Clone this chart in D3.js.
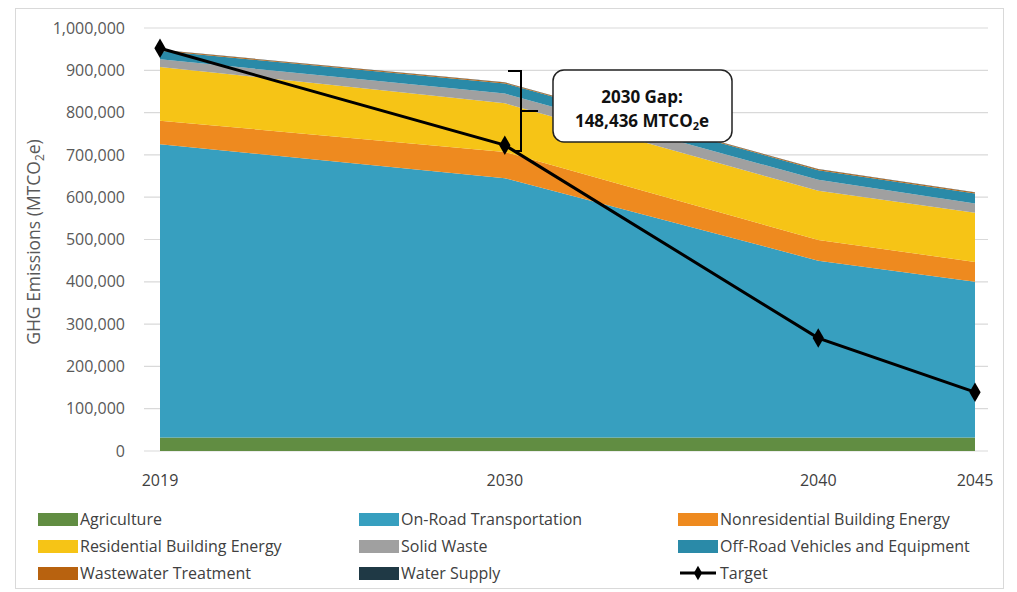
<!DOCTYPE html>
<html>
<head>
<meta charset="utf-8">
<script src="https://cdn.jsdelivr.net/npm/d3@7"></script>
<style>
  body { margin: 0; background: #fff; }
  text { font-family: "Open Sans", sans-serif; }
</style>
</head>
<body>
<svg id="chart" width="1017" height="592"></svg>
<script>
// years on the x axis
const years = [2019, 2030, 2040, 2045];

// emissions by sector, MTCO2e (bottom of stack first)
const sectors = [
  "Agriculture", "On-Road Transportation", "Nonresidential Building Energy",
  "Residential Building Energy", "Solid Waste", "Off-Road Vehicles and Equipment",
  "Wastewater Treatment", "Water Supply"
];
const agriculture   = [32000, 32000, 32000, 32000];
const onRoad        = [693000, 613000, 418000, 368000];
const nonresidential = [56000, 62000, 49000, 47000];
const residential   = [127000, 115000, 116000, 116000];
const solidWaste    = [18000, 23000, 26000, 22000];
const offRoad       = [20000, 24000, 23000, 24000];
const wastewater    = [2000, 2000, 2000, 2000];
const waterSupply   = [500, 500, 500, 500];

// reduction target
const target = [952000, 723000, 267000, 139000];

const yTicks = [0, 100000, 200000, 300000, 400000, 500000, 600000, 700000, 800000, 900000, 1000000];
const gapLabel = ["2030 Gap:", "148,436 MTCO"];

const colors = ["#618d42", "#379fbf", "#ee8a1f", "#f6c416", "#a0a0a0", "#2a8aa8", "#b8620f", "#1f3945"];

const series = [agriculture, onRoad, nonresidential, residential, solidWaste, offRoad, wastewater, waterSupply];
const table = years.map((yr, i) => {
  const row = { year: yr };
  sectors.forEach((s, j) => row[s] = series[j][i]);
  return row;
});

const svg = d3.select("#chart");

// outer frame
svg.append("rect")
  .attr("x", 15.5).attr("y", 8.5).attr("width", 988).attr("height", 580)
  .attr("fill", "none").attr("stroke", "#d9d9d9");

const x = d3.scaleLinear().domain([2019, 2045]).range([160, 975]);
const y = d3.scaleLinear().domain([0, 1000000]).range([451, 28]);

// gridlines
svg.append("g").selectAll("line")
  .data(yTicks)
  .join("line")
    .attr("x1", 144).attr("x2", 988)
    .attr("y1", d => y(d)).attr("y2", d => y(d))
    .attr("stroke", "#d9d9d9").attr("stroke-width", 1.2);

// y tick labels
svg.append("g").selectAll("text")
  .data(yTicks)
  .join("text")
    .attr("x", 125).attr("y", d => y(d))
    .attr("dy", "0.35em")
    .attr("text-anchor", "end")
    .attr("font-size", 16)
    .attr("fill", "#595959")
    .text(d3.format(","));

// stacked areas
const stack = d3.stack().keys(sectors);
const layers = stack(table);
const area = d3.area()
  .x(d => x(d.data.year))
  .y0(d => y(d[0]))
  .y1(d => y(d[1]));

svg.append("g").selectAll("path")
  .data(layers)
  .join("path")
    .attr("d", area)
    .attr("fill", (d, i) => colors[i]);

// x tick labels
svg.append("g").selectAll("text")
  .data(years)
  .join("text")
    .attr("x", d => x(d)).attr("y", 480)
    .attr("dy", "0.35em")
    .attr("text-anchor", "middle")
    .attr("font-size", 16)
    .attr("fill", "#404040")
    .text(d => d);

// y axis title
const yt = svg.append("text")
  .attr("transform", "translate(40,242) rotate(-90)")
  .attr("text-anchor", "middle")
  .attr("font-size", 17.5)
  .attr("fill", "#595959");
yt.append("tspan").text("GHG Emissions (MTCO");
yt.append("tspan").attr("font-size", 12).attr("dy", 4).text("2");
yt.append("tspan").attr("dy", -4).text("e)");

// target line
const line = d3.line().x((d, i) => x(years[i])).y(d => y(d));
svg.append("path")
  .datum(target)
  .attr("d", line)
  .attr("fill", "none")
  .attr("stroke", "#000")
  .attr("stroke-width", 3);

const diamond = d3.symbol().type(d3.symbolDiamond).size(110);
svg.append("g").selectAll("path")
  .data(target)
  .join("path")
    .attr("transform", (d, i) => `translate(${x(years[i])},${y(d)})`)
    .attr("d", diamond)
    .attr("fill", "#000");

// gap bracket
const bx = 521, bTop = 71, bBot = 151, bMid = 111;
svg.append("path")
  .attr("d", `M508,${bTop} H${bx} V${bBot} H513 M${bx},${bMid} H538`)
  .attr("fill", "none")
  .attr("stroke", "#000")
  .attr("stroke-width", 2);

// gap callout box
svg.append("rect")
  .attr("x", 553).attr("y", 70).attr("width", 179).attr("height", 72)
  .attr("rx", 11)
  .attr("fill", "#fff")
  .attr("stroke", "#222")
  .attr("stroke-width", 1.5);
svg.append("text")
  .attr("x", 642).attr("y", 97).attr("dy", "0.35em")
  .attr("text-anchor", "middle").attr("font-size", 17).attr("font-weight", "bold")
  .attr("fill", "#111")
  .text(gapLabel[0]);
const g2 = svg.append("text")
  .attr("x", 642).attr("y", 121).attr("dy", "0.35em")
  .attr("text-anchor", "middle").attr("font-size", 17).attr("font-weight", "bold")
  .attr("fill", "#111");
g2.append("tspan").text(gapLabel[1]);
g2.append("tspan").attr("font-size", 11).attr("dy", 3).text("2");
g2.append("tspan").attr("dy", -3).text("e");

// legend
const legendItems = sectors.concat(["Target"]);
const colX = [38, 359, 678];
const rowY = [519, 546, 573];
const legend = svg.append("g").selectAll("g")
  .data(legendItems)
  .join("g")
    .attr("transform", (d, i) => `translate(${colX[i % 3]},${rowY[Math.floor(i / 3)]})`);

legend.filter(d => d !== "Target").append("rect")
  .attr("x", 0).attr("y", -6).attr("width", 40).attr("height", 13)
  .attr("fill", d => colors[sectors.indexOf(d)]);

const tl = legend.filter(d => d === "Target");
tl.append("line")
  .attr("x1", 2).attr("x2", 38).attr("y1", 0).attr("y2", 0)
  .attr("stroke", "#000").attr("stroke-width", 3);
tl.append("path")
  .attr("transform", "translate(20,0)")
  .attr("d", d3.symbol().type(d3.symbolDiamond).size(60))
  .attr("fill", "#000");

legend.append("text")
  .attr("x", 42).attr("y", 0).attr("dy", "0.35em")
  .attr("font-size", 16)
  .attr("fill", "#404040")
  .text(d => d);
</script>
</body>
</html>
